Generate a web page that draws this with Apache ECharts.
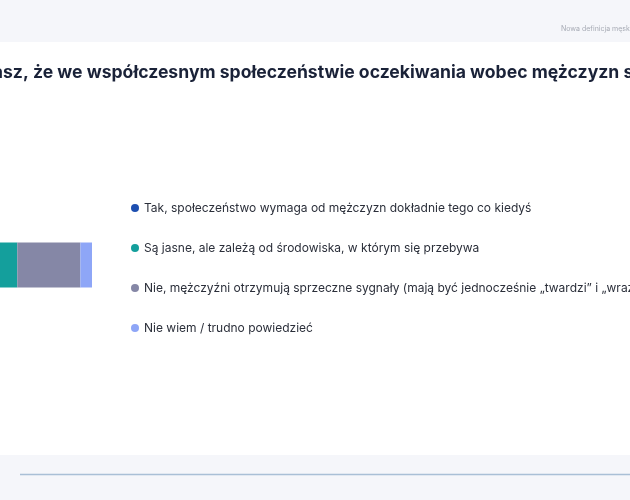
<!DOCTYPE html>
<html>
<head>
<meta charset="utf-8">
<script src="https://cdn.jsdelivr.net/npm/echarts@6/dist/echarts.min.js"></script>
<style>
  html, body { margin: 0; padding: 0; background: #fff; overflow: hidden; }
  /* slajd jest przycięty z lewej, więc wykres jest szerszy i przesunięty */
  #chart { width: 830px; height: 500px; margin-left: -200px; }
</style>
</head>
<body>
<div id="chart"></div>
<script>
// dane wykresu
var categories = ['Ogółem'];
var seriesNames = [
    'Tak, społeczeństwo wymaga od mężczyzn dokładnie tego co kiedyś',
    'Są jasne, ale zależą od środowiska, w którym się przebywa',
    'Nie, mężczyźni otrzymują sprzeczne sygnały (mają być jednocześnie „twardzi” i „wrażliwi”)',
    'Nie wiem / trudno powiedzieć'
];
var tak = [18];
var saJasne = [37];
var nie = [38];
var nieWiem = [7];
var seriesColors = ['#1d4fb0', '#149f9c', '#8587a6', '#8ea6f7'];
var titleText = 'Czy uważasz, że we współczesnym społeczeństwie oczekiwania wobec mężczyzn są jasne?';
var headerText = 'Nowa definicja męskości';

var shift = 200;
var ctx = document.createElement('canvas').getContext('2d');
ctx.font = 'bold 17.6px Inter';
var titleX = shift + 3 - ctx.measureText('Czy uważa').width;

var chart = echarts.init(document.getElementById('chart'));
var values = [tak, saJasne, nie, nieWiem];
var series = [];
for (var i = 0; i < seriesNames.length; i++) {
    series.push({
        name: seriesNames[i],
        type: 'bar',
        stack: 'total',
        barWidth: 45,
        silent: true,
        itemStyle: { color: seriesColors[i] },
        data: values[i]
    });
}

var option = {
    animation: false,
    backgroundColor: '#ffffff',
    color: seriesColors,
    graphic: [
        { type: 'rect', left: 0, top: 0, shape: { width: 830, height: 42 }, style: { fill: '#f5f6fa' }, z: -1 },
        { type: 'rect', left: 0, top: 455, shape: { width: 830, height: 45 }, style: { fill: '#f5f6fa' }, z: -1 },
        { type: 'line', shape: { x1: shift + 20, y1: 474.5, x2: 830, y2: 474.5 }, style: { stroke: '#a9bfd6', lineWidth: 1.5 } },
        { type: 'text', x: shift + 561, y: 29, style: { text: headerText, fill: '#a7abb5', font: '7px Inter', verticalAlign: 'middle' } },
        { type: 'text', x: titleX, y: 73, style: { text: titleText, fill: '#1a2238', font: 'bold 17.6px Inter', verticalAlign: 'middle' } }
    ],
    legend: {
        orient: 'vertical',
        left: shift + 126,
        top: 196,
        icon: 'circle',
        itemWidth: 8,
        itemHeight: 8,
        itemGap: 26,
        selectedMode: false,
        textStyle: { color: '#2b2f3a', fontSize: 12, fontFamily: 'Inter', lineHeight: 14 },
        data: seriesNames
    },
    grid: { left: shift - 74, right: 538, top: 160, bottom: 130 },
    xAxis: { type: 'value', min: 0, max: 100, show: false },
    yAxis: { type: 'category', data: categories, show: false },
    series: series
};
chart.setOption(option);
</script>
</body>
</html>
